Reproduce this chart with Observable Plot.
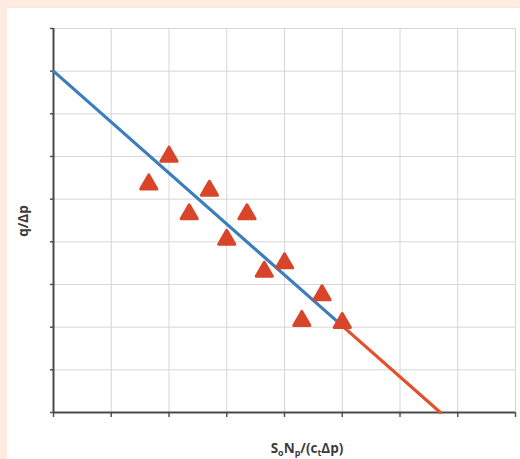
<!DOCTYPE html>
<html>
<head>
<meta charset="utf-8">
<script src="https://cdn.jsdelivr.net/npm/d3@7"></script>
<script src="https://cdn.jsdelivr.net/npm/@observablehq/plot@0.6"></script>
<style>
  html, body { margin: 0; padding: 0; background: #fdecdf; width: 520px; height: 459px; overflow: hidden; }
  #panel { position: absolute; left: 7px; top: 8px; width: 513px; height: 451px; background: #ffffff; box-shadow: 0 0 2px #f3e2d4; }
</style>
</head>
<body>
<div id="panel"></div>
<script>
// Data (grid units)
const pointX = [2.0, 1.65, 2.7, 2.35, 3.35, 3.0, 4.0, 3.65, 4.65, 4.3, 5.0];
const pointY = [6.0, 5.35, 5.2, 4.65, 4.65, 4.05, 3.5, 3.3, 2.75, 2.15, 2.1];
const fitX = [0, 5.0];        // blue fitted line
const fitY = [8.0, 2.03];
const extX = [5.0, 6.7];      // red extrapolation
const extY = [2.03, 0];
const xTicks = [0, 1, 2, 3, 4, 5, 6, 7, 8];
const yTicks = [0, 1, 2, 3, 4, 5, 6, 7, 8, 9];
const xLabelParts = [["S", false], ["o", true], ["N", false], ["p", true], ["/(c", false], ["t", true], ["Δp)", false]];
const yLabel = "q/Δp";

const points = pointX.map((x, i) => ({x, y: pointY[i]}));
const fit = fitX.map((x, i) => ({x, y: fitY[i]}));
const ext = extX.map((x, i) => ({x, y: extY[i]}));

const W = 513, H = 451;
const chart = Plot.plot({
  width: W, height: H,
  marginLeft: 46, marginRight: 5, marginTop: 20, marginBottom: 47,
  style: {background: "transparent", overflow: "visible"},
  x: {domain: [0, 8], axis: null},
  y: {domain: [0, 9], axis: null},
  marks: [
    Plot.ruleX(xTicks.slice(1), {stroke: "#d6d6d6", strokeWidth: 1}),
    Plot.ruleY(yTicks.slice(1), {stroke: "#d6d6d6", strokeWidth: 1}),
    Plot.axisX({ticks: xTicks, tickFormat: () => "", tickSize: 5, stroke: "#555", strokeWidth: 1.5, label: null}),
    Plot.axisY({ticks: yTicks, tickFormat: () => "", tickSize: 3, stroke: "#555", strokeWidth: 1.5, label: null}),
    Plot.ruleX([0], {stroke: "#4a4a4a", strokeWidth: 2}),
    Plot.ruleY([0], {stroke: "#4a4a4a", strokeWidth: 2}),
    Plot.line(ext, {x: "x", y: "y", stroke: "#e0512c", strokeWidth: 3.2}),
    Plot.line(fit, {x: "x", y: "y", stroke: "#3b7dbd", strokeWidth: 3.2}),
    Plot.dot(points, {x: "x", y: "y", symbol: "triangle", r: 6, fill: "#d8452a", stroke: "#d8452a", strokeWidth: 3, strokeLinejoin: "round"})
  ]
});

const svg = d3.select(chart);
// y axis label
svg.append("text")
  .attr("transform", "translate(21,213) rotate(-90)")
  .attr("text-anchor", "middle")
  .attr("font-family", "Open Sans, Liberation Sans, sans-serif")
  .attr("font-weight", "bold")
  .attr("font-size", 13.5)
  .attr("fill", "#3c3c3c")
  .text(yLabel);
// x axis label with subscripts
const xl = svg.append("text")
  .attr("x", 300).attr("y", 445)
  .attr("text-anchor", "middle")
  .attr("font-family", "Open Sans, Liberation Sans, sans-serif")
  .attr("font-weight", "bold")
  .attr("font-size", 13.5)
  .attr("fill", "#3c3c3c");
let prevSub = false;
for (const [t, sub] of xLabelParts) {
  const ts = xl.append("tspan").text(t);
  if (sub && !prevSub) ts.attr("dy", 3);
  else if (!sub && prevSub) ts.attr("dy", -3);
  if (sub) ts.attr("font-size", 9);
  prevSub = sub;
}
document.getElementById("panel").appendChild(chart);
</script>
</body>
</html>
